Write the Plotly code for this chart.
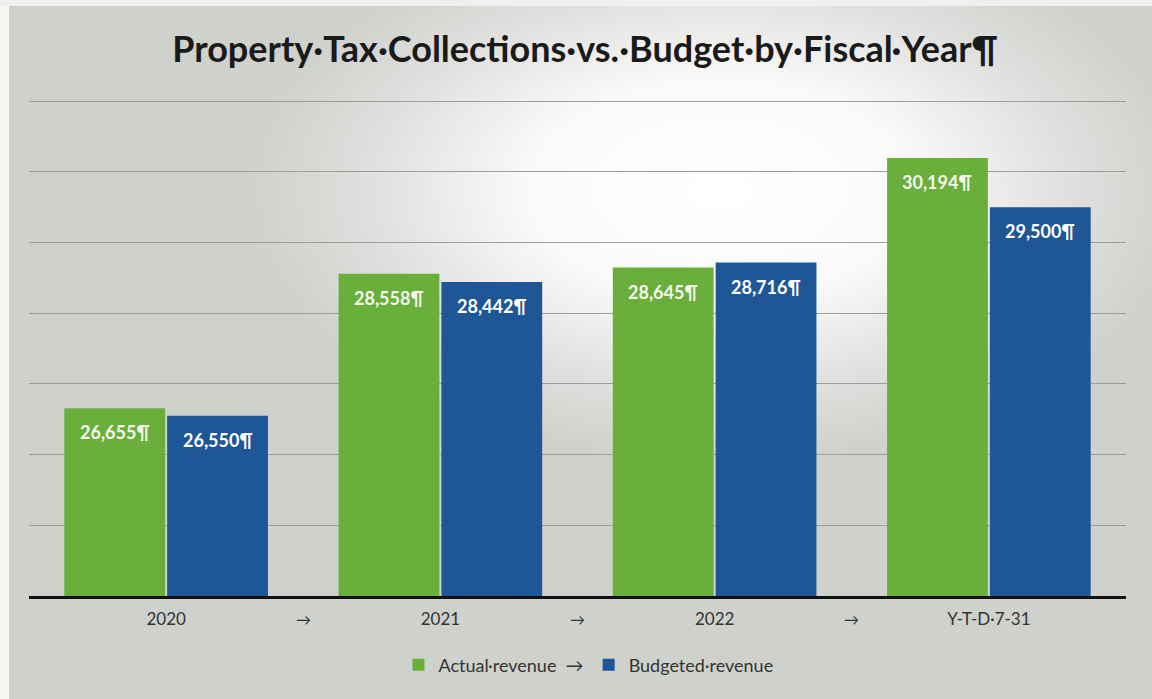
import base64
import plotly.graph_objects as go

# ---- data ----
categories = ["2020", "2021", "2022", "Y-T-D·7-31"]
actual_revenue = [26655, 28558, 28645, 30194]
budgeted_revenue = [26550, 28442, 28716, 29500]
series_names = ["Actual·revenue", "Budgeted·revenue"]
separator_label = "→"
title_text = "Property·Tax·Collections·vs.·Budget·by·Fiscal·Year¶"
y_range = [24000, 31100]
y_step = 1000

# ---- style ----
W, H = 1152, 699
ML, MR, MT, MB = 29, 26, 94, 103
GREEN = "#6aae3c"
BLUE = "#1e5696"
BG = "#d0d2ce"
FONT = "Lato"
BARGAP = 0.25

# scanned-paper background: gray with a bright glare region near the top centre-right
svg = f"""<svg xmlns='http://www.w3.org/2000/svg' width='{W}' height='{H}' viewBox='0 0 {W} {H}' preserveAspectRatio='none'>
<defs><radialGradient id='g' gradientUnits='userSpaceOnUse' cx='0' cy='0' r='1' gradientTransform='translate(720 190) scale(470 270)'>
<stop offset='0' stop-color='#ffffff'/><stop offset='0.4' stop-color='#fafaf9'/><stop offset='0.75' stop-color='#dfe0dd'/><stop offset='1' stop-color='#cfd1cd'/></radialGradient></defs>
<rect width='{W}' height='{H}' fill='{BG}'/>
<rect width='{W}' height='{H}' fill='url(#g)'/>
<rect x='0' y='0' width='9' height='{H}' fill='#f6f6f4'/>
<rect x='0' y='0' width='{W}' height='6' fill='#f0f0ee'/>
</svg>"""
bg_src = "data:image/svg+xml;base64," + base64.b64encode(svg.encode()).decode()
pw, ph = W - ML - MR, H - MT - MB

fig = go.Figure()
series = [(series_names[0], actual_revenue, GREEN), (series_names[1], budgeted_revenue, BLUE)]
for i, (name, vals, color) in enumerate(series):
    legend_name = name + ("  " + separator_label if i == 0 else "")
    fig.add_trace(go.Bar(
        x=categories, y=vals, name=legend_name,
        marker=dict(color=color, line=dict(width=0)),
        hoverinfo="x+y",
    ))

# data labels: inside bars near top, placed at data coordinates
half = (1 - BARGAP) / 4
for i, (name, vals, color) in enumerate(series):
    off = -half if i == 0 else half
    for j, v in enumerate(vals):
        fig.add_annotation(
            x=j + off, y=v, xref="x", yref="y",
            text=f"{v:,}¶", showarrow=False,
            yshift=-24, yanchor="middle", xanchor="center",
            font=dict(family=FONT, size=18, color="#f4f8ea" if i == 0 else "#ffffff", weight="bold"),
        )

# arrows between category labels
for k in range(len(categories) - 1):
    fig.add_annotation(
        x=k + 0.5, y=-23 / ph, xref="x", yref="paper",
        text=separator_label, showarrow=False, yanchor="middle",
        font=dict(family=FONT, size=15, color="#333333"),
    )

fig.add_layout_image(
    source=bg_src, xref="paper", yref="paper",
    x=-ML / pw, y=1 + MT / ph, sizex=W / pw, sizey=H / ph,
    xanchor="left", yanchor="top", sizing="stretch", layer="below",
)

fig.update_layout(
    width=W, height=H,
    margin=dict(l=ML, r=MR, t=MT, b=MB),
    paper_bgcolor=BG, plot_bgcolor="rgba(0,0,0,0)",
    barmode="group", bargap=BARGAP, bargroupgap=0.02,
    title=dict(text=title_text, x=0.508, xanchor="center", y=0.929, yanchor="middle",
               font=dict(family=FONT, size=36, color="#1a1a1a", weight="bold")),
    font=dict(family=FONT, color="#333333"),
    legend=dict(orientation="h", x=0.51, xanchor="center", y=-69 / ph, yanchor="middle",
                font=dict(family=FONT, size=18, color="#333333"),
                bgcolor="rgba(0,0,0,0)", itemwidth=30, traceorder="normal"),
    showlegend=True,
)
fig.update_xaxes(
    type="category", showline=True, linecolor="#111111", linewidth=3,
    ticks="outside", ticklen=6, tickcolor="rgba(0,0,0,0)",
    tickfont=dict(family=FONT, size=17, color="#333333"),
    showgrid=False, zeroline=False,
)
fig.update_yaxes(
    range=y_range, dtick=y_step, tick0=0, showgrid=True, gridcolor="#9c9e9a", gridwidth=1,
    showticklabels=False, zeroline=False, showline=False,
)

fig.write_html(
    "out.html",
    config={"displayModeBar": False},
    post_script="document.body.style.margin='0';document.body.style.overflow='hidden';",
)
